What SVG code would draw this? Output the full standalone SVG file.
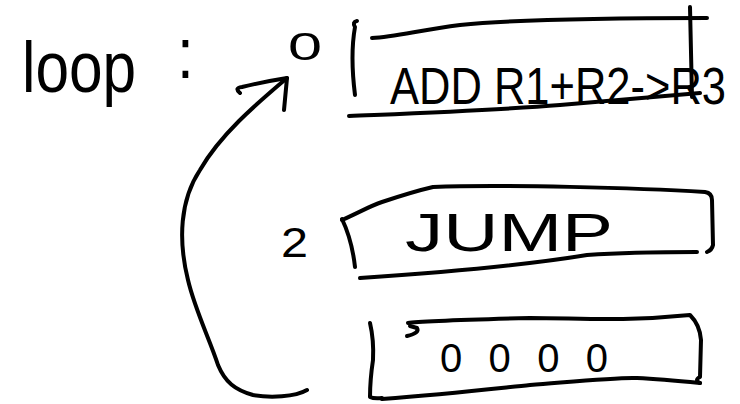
<svg xmlns="http://www.w3.org/2000/svg" width="740" height="404" viewBox="0 0 740 404">
<style>
.s{fill:none;stroke:#000;stroke-width:4;stroke-linecap:round;stroke-linejoin:round}
.t{font-family:"Liberation Sans","DejaVu Sans",sans-serif;fill:#000}
</style>
<rect width="740" height="404" fill="#fff"/>
<g id="label-loop">
<text class="t" x="22" y="92" font-size="72" textLength="131" lengthAdjust="spacingAndGlyphs">loop<tspan x="177" y="78">:</tspan></text>
</g>
<g id="node-0">
<text class="t" x="288" y="60" font-size="38" textLength="34" lengthAdjust="spacingAndGlyphs">0</text>
<path class="s" d="M357,21 Q352,22 355,27 Q350,55 355,95"/>
<path class="s" d="M372,38 C395,37 420,30 460,25 C520,19 620,18 707,18"/>
<path class="s" d="M349,116 C420,113 500,110 560,105 C620,100 670,96 700,93"/>
<path class="s" d="M690,7 L692,97"/>
<text class="t" x="390" y="104" font-size="52" textLength="336" lengthAdjust="spacingAndGlyphs">ADD R1+R2-&gt;R3</text>
</g>
<g id="node-2">
<text class="t" x="281" y="257" font-size="42" textLength="27" lengthAdjust="spacingAndGlyphs">2</text>
<path class="s" d="M342,219 Q352,240 355,267"/>
<path class="s" d="M342,220 C360,212 370,206 382,202 C400,196 420,190 433,187 C500,184 640,188 705,192 Q712,193 712,200 L713,245 Q712,250 707,252"/>
<path class="s" d="M360,278 C450,272 520,266 587,255 C630,252 670,252 697,252"/>
<text class="t" x="405" y="251" font-size="54" textLength="208" lengthAdjust="spacingAndGlyphs">JUMP</text>
</g>
<g id="node-3">
<path class="s" d="M370,323 Q374,340 373,360 Q370,380 370,397 Q374,399 382,398"/>
<path class="s" d="M382,399 C450,394 500,388 530,385 C580,381 620,377 637,378 C660,379 680,381 700,383"/>
<path class="s" d="M408,323 Q420,321 530,318 C580,318 620,322 690,315 Q700,325 701,340 L700,377 Q694,380 700,383"/>
<path class="s" d="M407,336 Q420,333 417,328 L410,326"/>
<text class="t" x="440" y="372" font-size="40" textLength="168" lengthAdjust="spacing">0000</text>
</g>
<g id="connectors">
<path class="s" d="M307,390 C295,397 270,398 253,395 C235,390 225,382 218,365 C210,340 195,310 188,280 C178,240 180,200 200,170 C220,135 255,105 287,78"/>
<path class="s" d="M240,93 Q234,88 242,87 Q262,82 287,78 L284,110"/>
</g>
</svg>
